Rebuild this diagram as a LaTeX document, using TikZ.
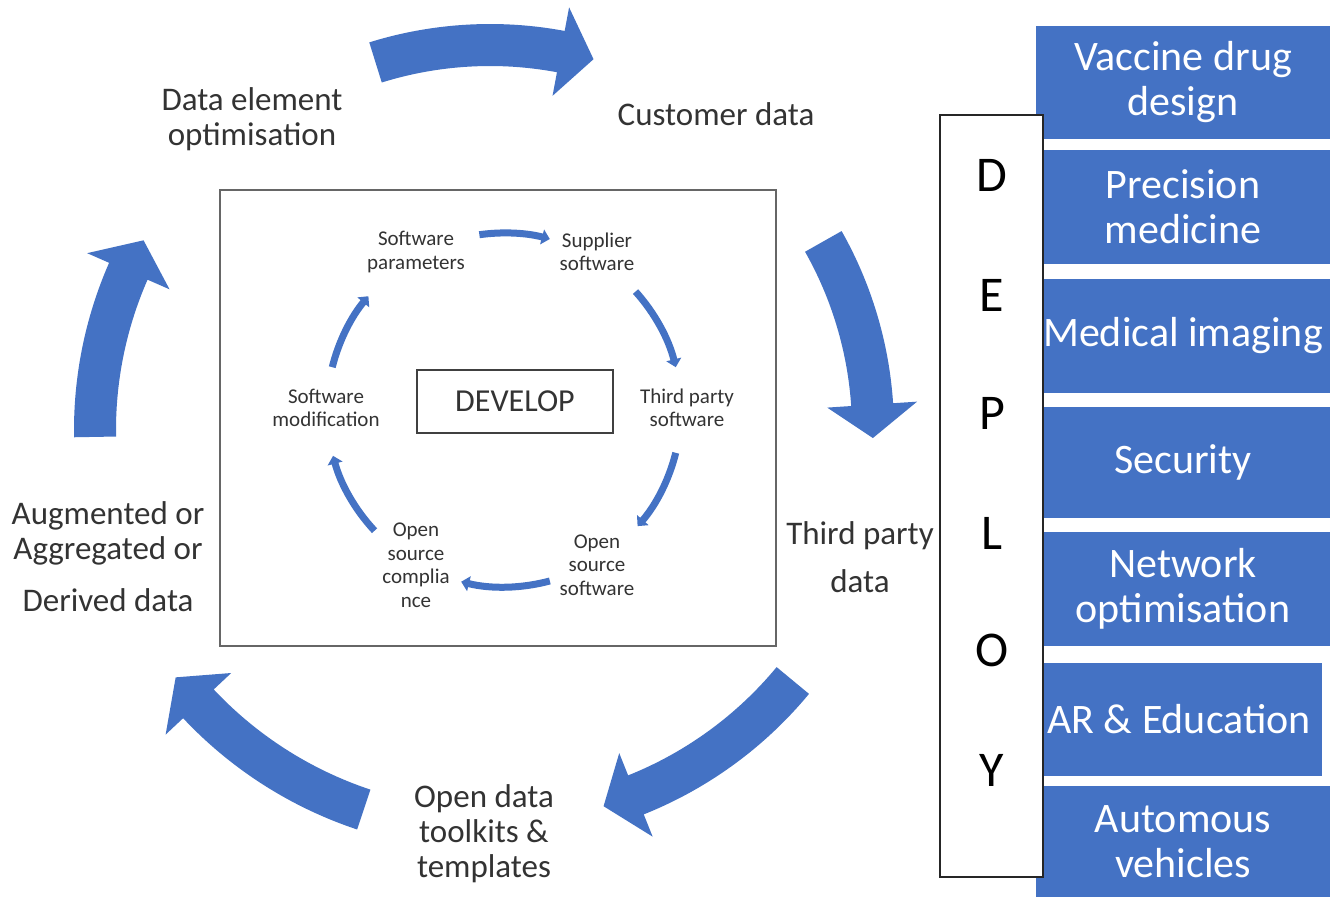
\documentclass[tikz,border=0pt]{standalone}
\usepackage{fontspec}
\setmainfont{Carlito}
\usetikzlibrary{arrows.meta,positioning}
\definecolor{ablue}{HTML}{4472C4}
\definecolor{atext}{HTML}{333333}
\tikzset{
  every picture/.style={line width=1pt},
  sArr/.style={draw=ablue, line width=7pt, -{Triangle[width=15pt,length=8pt]}},
  outlbl/.style={text=atext, align=center, inner sep=0pt,
                 font=\fontsize{33}{35}\selectfont},
  inlbl/.style={text=atext, align=center, inner sep=0pt,
                font=\fontsize{21}{23.5}\selectfont},
  usecase/.style={fill=ablue, draw=none, text=white, align=center, inner sep=0pt,
                  minimum width=294pt, font=\fontsize{42}{45}\selectfont},
  dletter/.style={inner sep=0pt, font=\fontsize{50}{50}\selectfont},
}
% block arc arrow: tail angle, tip angle, mid radius (around the scope origin)
\newcommand{\bigarrow}[3]{%
  \fill[ablue] (#1:#3-21) arc[start angle=#1, end angle=#2+5, radius=#3pt-21pt]
    -- (#2+5:#3-45) -- (#2:#3) -- (#2+5:#3+45) -- (#2+5:#3+21)
    arc[start angle=#2+5, end angle=#1, radius=#3pt+21pt] -- cycle;}

\begin{document}
\begin{tikzpicture}[x=1pt,y=1pt]
  \fill[white] (0,0) rectangle (1336,-897);
  \useasboundingbox (0,0) rectangle (1336,-897);

  % outer cycle
  \begin{scope}[shift={(490,-430)}]
    \bigarrow{107.3}{74.4}{385}
    \bigarrow{29.5}{-1.2}{383}
    \bigarrow{-39.6}{-73.2}{393}
    \bigarrow{251.6}{218.2}{400}
    \bigarrow{181}{151.3}{395}
  \end{scope}

  \node[outlbl] (deo) at (252,-119) {Data element\\optimisation};
  \node[outlbl] (cust) at (716,-114.5) {Customer data};
  \node[outlbl, font=\fontsize{33}{48}\selectfont] (tpd) at (860,-557.5)
        {Third party\\data};
  \node[outlbl] (aug) at (108,-557) {Augmented or\\Aggregated or\\[17pt]Derived data};
  \node[outlbl] (odt) at (484,-833.5) {Open data\\toolkits \&\\templates};

  % develop frame
  \node[draw=black!60, line width=2.5pt, minimum width=556pt, minimum height=456pt]
        (frame) at (498,-418) {};
  \node[draw=black!75, line width=2pt, minimum width=196pt, minimum height=63pt,
        text=atext, font=\fontsize{32}{32}\selectfont] (dev) at (515,-401.5) {DEVELOP};

  \node[inlbl] (spar) at (416,-252) {Software\\parameters};
  \node[inlbl] (ssup) at (597,-252) {Supplier\\software};
  \node[inlbl] (stps) at (687,-408) {Third party\\software};
  \node[inlbl] (soss) at (597,-565) {Open\\source\\software};
  \node[inlbl] (socm) at (416,-565) {Open\\source\\complia\\nce};
  \node[inlbl] (smod) at (326,-408) {Software\\modification};

  \begin{scope}[shift={(504,-410)}]
    \draw[sArr] (98:177) arc[start angle=98, end angle=75, radius=177pt];
    \draw[sArr] (42:177) arc[start angle=42, end angle=14, radius=177pt];
    \draw[sArr] (-14:177) arc[start angle=-14, end angle=-41, radius=177pt];
    \draw[sArr] (-75:177) arc[start angle=-75, end angle=-104, radius=177pt];
    \draw[sArr] (223:177) arc[start angle=223, end angle=195, radius=177pt];
    \draw[sArr] (166:177) arc[start angle=166, end angle=140, radius=177pt];
  \end{scope}

  % deploy column
  \node[usecase, minimum height=113pt] (vac) at (1183,-82.5) {Vaccine drug\\design};
  \node[usecase, minimum height=114pt] (pre) at (1183,-207) {Precision\\medicine};
  \node[usecase, minimum height=114pt] (med) at (1183,-336) {Medical imaging};
  \node[usecase, minimum height=111pt] (sec) at (1183,-462.5) {Security};
  \node[usecase, minimum height=114pt] (net) at (1183,-589) {Network\\optimisation};
  \node[usecase, minimum height=113pt, minimum width=286pt] (are) at (1179,-719.5)
        {AR \& Education};
  \node[usecase, minimum height=111pt] (aut) at (1183,-841.5) {Automous\\vehicles};

  \node[draw=black!85, line width=1.5pt, fill=white, minimum width=103pt,
        minimum height=762pt] (dbox) at (991.5,-496) {};
  \node[dletter] (lD) at (992,-175) {D};
  \node[dletter] (lE) at (992,-295) {E};
  \node[dletter] (lP) at (992,-413) {P};
  \node[dletter] (lL) at (992,-533) {L};
  \node[dletter] (lO) at (992,-650) {O};
  \node[dletter] (lY) at (992,-770) {Y};
\end{tikzpicture}
\end{document}
